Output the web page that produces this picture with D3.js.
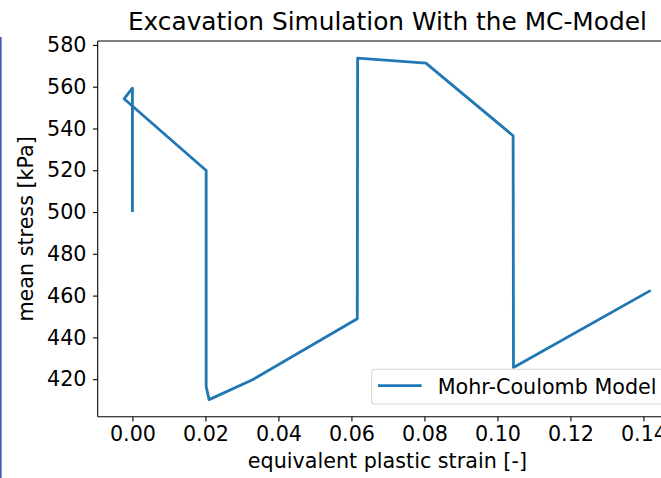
<!DOCTYPE html>
<html>
<head>
<meta charset="utf-8">
<script src="https://cdn.jsdelivr.net/npm/d3@7"></script>
<style>
  body { margin: 0; background: #fff; }
  svg { display: block; font-family: "DejaVu Sans", sans-serif; }
</style>
</head>
<body>
<svg id="chart" width="661" height="478"></svg>
<script>
// values
let strain = [0, 0, -0.0023, 0.0202, 0.0202, 0.021, 0.0329, 0.0616, 0.0617, 0.0804, 0.1043, 0.1044, 0.142];
let stress = [500, 559.3, 554.2, 519.9, 416.5, 410.2, 419.7, 448.9, 573.7, 571.3, 536.5, 425.6, 462.5];
let xTicks = [0, 0.02, 0.04, 0.06, 0.08, 0.10, 0.12, 0.14];
let yTicks = [420, 440, 460, 480, 500, 520, 540, 560, 580];
let seriesName = "Mohr-Coulomb Model";

let axLeft = 97.7, axTop = 41, pxPerX = 3650, pxPerY = 2.089;
let fontSize = 20.7;

// matplotlib style 5% margins
function padded(arr) {
	let [a, b] = d3.extent(arr);
	let p = (b - a) * 0.05;
	return [a - p, b + p];
}

let xDom = padded(strain);
let yDom = padded(stress);
let axRight = axLeft + (xDom[1] - xDom[0]) * pxPerX;
let axBottom = axTop + (yDom[1] - yDom[0]) * pxPerY;

let x = d3.scaleLinear().domain(xDom).range([axLeft, axRight]);
let y = d3.scaleLinear().domain(yDom).range([axBottom, axTop]);

const svg = d3.select("#chart");

// stray frame edge on the left side of the screenshot
svg.append("rect").attr("x", 0).attr("y", 37).attr("width", 1.6).attr("height", 441).attr("fill", "#4a52bd");

const data = strain.map((s, i) => ({s: s, p: stress[i]}));

const line = d3.line().x(d => x(d.s)).y(d => y(d.p));

svg.append("path")
   .datum(data)
   .attr("fill", "none")
   .attr("stroke", "#1f77b4")
   .attr("stroke-width", 2.8)
   .attr("stroke-linejoin", "round")
   .attr("d", line);

// axes
const xAxis = svg.append("g")
	.attr("transform", `translate(0,${axBottom})`)
	.call(d3.axisBottom(x).tickValues(xTicks).tickFormat(d3.format(".2f")).tickSizeInner(4.7).tickSizeOuter(0).tickPadding(4.5));

const yAxis = svg.append("g")
	.attr("transform", `translate(${axLeft},0)`)
	.call(d3.axisLeft(y).tickValues(yTicks).tickFormat(d3.format("d")).tickSizeInner(4.7).tickSizeOuter(0).tickPadding(6.5));

[xAxis, yAxis].forEach(g => {
	g.select(".domain").remove();
	g.selectAll(".tick line").attr("stroke", "#000").attr("stroke-width", 1.1);
	g.selectAll(".tick text")
	 .attr("fill", "#000")
	 .style("font-size", fontSize + "px")
	 .style("font-family", "DejaVu Sans");
});

// spines
const spine = svg.append("g").attr("stroke", "#000").attr("stroke-width", 1.1).attr("fill", "none");
spine.append("line").attr("x1", axLeft).attr("x2", axLeft).attr("y1", axTop).attr("y2", axBottom);
spine.append("line").attr("x1", axLeft).attr("x2", axRight).attr("y1", axBottom).attr("y2", axBottom);
spine.append("line").attr("x1", axLeft).attr("x2", axRight).attr("y1", axTop).attr("y2", axTop);
spine.append("line").attr("x1", axRight).attr("x2", axRight).attr("y1", axTop).attr("y2", axBottom);

// title and labels
svg.append("text")
   .attr("x", (axLeft + axRight) / 2)
   .attr("y", 30)
   .attr("text-anchor", "middle")
   .style("font-size", "24.8px")
   .text("Excavation Simulation With the MC-Model");

svg.append("text")
   .attr("x", (axLeft + axRight) / 2)
   .attr("y", 468)
   .attr("text-anchor", "middle")
   .style("font-size", fontSize + "px")
   .text("equivalent plastic strain [-]");

svg.append("text")
   .attr("transform", `translate(33,${(axTop + axBottom) / 2}) rotate(-90)`)
   .attr("text-anchor", "middle")
   .style("font-size", fontSize + "px")
   .text("mean stress [kPa]");

// legend
const legend = svg.append("g");
legend.append("rect")
	  .attr("x", 371.7).attr("y", 369.3)
	  .attr("width", 320).attr("height", 34.7)
	  .attr("rx", 3)
	  .attr("fill", "#fff").attr("fill-opacity", 0.8)
	  .attr("stroke", "#d6d6d6").attr("stroke-width", 1.1);
legend.append("line")
	  .attr("x1", 378).attr("x2", 421.7)
	  .attr("y1", 385.7).attr("y2", 385.7)
	  .attr("stroke", "#1f77b4").attr("stroke-width", 2.8);
legend.append("text")
	  .attr("x", 437.7).attr("y", 393.6)
	  .style("font-size", fontSize + "px")
	  .text(seriesName);
</script>
</body>
</html>
